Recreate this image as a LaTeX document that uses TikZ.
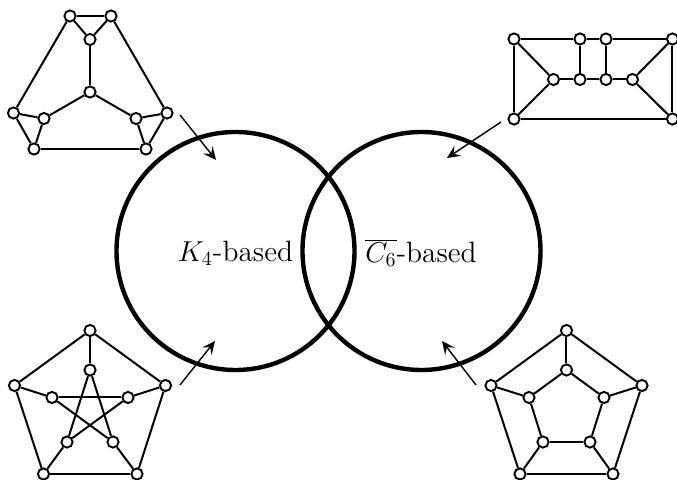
\documentclass[tikz,border=0pt]{standalone}
\usetikzlibrary{arrows.meta}
\tikzset{
  vtx/.style={circle,draw=black,fill=white,line width=0.95pt,inner sep=0pt,minimum size=5.6pt},
  edge/.style={draw=black,line width=1pt},
  venn/.style={circle,draw=black,line width=2.2pt,minimum size=119pt,inner sep=0pt},
  lbl/.style={font=\fontsize{14.7}{17}\selectfont,inner sep=0pt},
  pointer/.style={draw=black,line width=0.7pt,-{Stealth[length=6.5pt,width=6pt,inset=2.6pt]}}
}
\begin{document}
\begin{tikzpicture}[x=0.5pt,y=-0.5pt]
\useasboundingbox (0,0) rectangle (677,480);
% Venn circles
\node[venn] (c1) at (235.5,251) {};
\node[venn] (c2) at (421.5,251) {};
\node[lbl] (t1) at (235.5,253) {$K_4$-based};
\node[lbl] (t2) at (421,253) {$\overline{C_6}$-based};
% top-left graph
\foreach \n/\x/\y in {a1/70/16,a2/111/16,a3/90/39.5,a4/90/92,a5/44/118.5,a6/13.5/113,a7/34/149,a8/136/118.5,a9/167/113,a10/146/149}
  \node[vtx] (\n) at (\x,\y) {};
\foreach \p/\q in {a1/a2,a1/a3,a2/a3,a3/a4,a4/a5,a4/a8,a5/a6,a5/a7,a6/a7,a8/a9,a8/a10,a9/a10,a7/a10,a1/a6,a2/a9}
  \draw[edge] (\p) -- (\q);
% top-right graph
\foreach \n/\x/\y in {b1/514/39,b2/580/39,b3/606/39,b4/672.5/39,b5/553.5/79.5,b6/580/79.5,b7/606/79.5,b8/632.5/79.5,b9/514/119,b10/672.5/119}
  \node[vtx] (\n) at (\x,\y) {};
\foreach \p/\q in {b1/b2,b2/b3,b3/b4,b1/b5,b1/b9,b9/b5,b5/b6,b6/b7,b7/b8,b2/b6,b3/b7,b4/b8,b4/b10,b8/b10,b9/b10}
  \draw[edge] (\p) -- (\q);
% bottom-left graph
\foreach \n/\x/\y in {p1/90/330.5,p2/14.5/385.5,p3/165.5/385.5,p4/43.5/474,p5/137/474,q1/90/370,q2/52/397.5,q3/128/397.5,q4/67/442,q5/113/442}
  \node[vtx] (\n) at (\x,\y) {};
\foreach \p/\q in {p1/p2,p1/p3,p2/p4,p3/p5,p4/p5,p1/q1,p2/q2,p3/q3,p4/q4,p5/q5,q1/q4,q1/q5,q2/q3,q2/q5,q3/q4}
  \draw[edge] (\p) -- (\q);
% bottom-right graph
\foreach \n/\x/\y in {r1/566.5/330.5,r2/491/385.5,r3/642/385.5,r4/520/474,r5/613/474,s1/566.5/370,s2/529/397.5,s3/604/397.5,s4/543/442,s5/590/442}
  \node[vtx] (\n) at (\x,\y) {};
\foreach \p/\q in {r1/r2,r1/r3,r2/r4,r3/r5,r4/r5,r1/s1,r2/s2,r3/s3,r4/s4,r5/s5,s1/s2,s1/s3,s2/s4,s3/s5,s4/s5}
  \draw[edge] (\p) -- (\q);
% arrows
\coordinate (e1a) at (180,115); \coordinate (e1b) at (216,160);
\coordinate (e2a) at (501,122); \coordinate (e2b) at (447,158);
\coordinate (e3a) at (180,385); \coordinate (e3b) at (215,341);
\coordinate (e4a) at (476,385); \coordinate (e4b) at (442,341);
\draw[pointer] (e1a) -- (e1b);
\draw[pointer] (e2a) -- (e2b);
\draw[pointer] (e3a) -- (e3b);
\draw[pointer] (e4a) -- (e4b);
\end{tikzpicture}
\end{document}
